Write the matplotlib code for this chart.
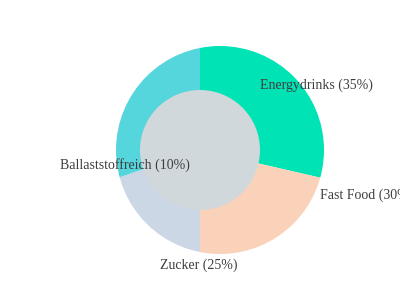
import matplotlib
matplotlib.use("Agg")
import matplotlib.pyplot as plt
from matplotlib.patches import Circle

# categories and the percentages printed on the labels
categories = ["Energydrinks", "Fast Food", "Zucker", "Ballaststoffreich"]
label_pct = [35, 30, 25, 10]
# angular shares of the slices as they are drawn in the picture
shares = [28.6, 21.4, 19.8, 30.2]
colors = ["#00e3b4", "#f9d2b9", "#cbd7e5", "#55d5dc"]

plt.rcParams['font.family'] = ['Liberation Serif', 'DejaVu Serif']

fig = plt.figure(figsize=(4, 3), dpi=100)
ax = fig.add_axes([0, 0, 1, 1])

wedges, _ = ax.pie(shares, colors=colors, startangle=90, counterclock=False,
                   center=(200, 150), radius=140,
                   wedgeprops=dict(linewidth=0))

# outer rim is a circle slightly right of the slice apex
rim = Circle((220, 150), 104, transform=ax.transData)
for w in wedges:
    w.set_clip_on(True)
    w.set_clip_path(rim)

ax.add_patch(Circle((200, 150), 60, color="#d0d8dc", lw=0, zorder=3))

# label positions (pixel coords, y measured from bottom)
label_pos = [(260, 215, "left"), (320, 105, "left"), (199, 35, "center"), (60, 135, "left")]
for name, pct, (x, y, ha) in zip(categories, label_pct, label_pos):
    ax.text(x, y, f"{name} ({pct}%)", ha=ha, va="center", fontsize=10,
            color="#3d3d3d", zorder=5)

ax.set_xlim(0, 400)
ax.set_ylim(0, 300)
ax.set_aspect("equal")
ax.axis("off")

fig.savefig("out.png", dpi=100)
